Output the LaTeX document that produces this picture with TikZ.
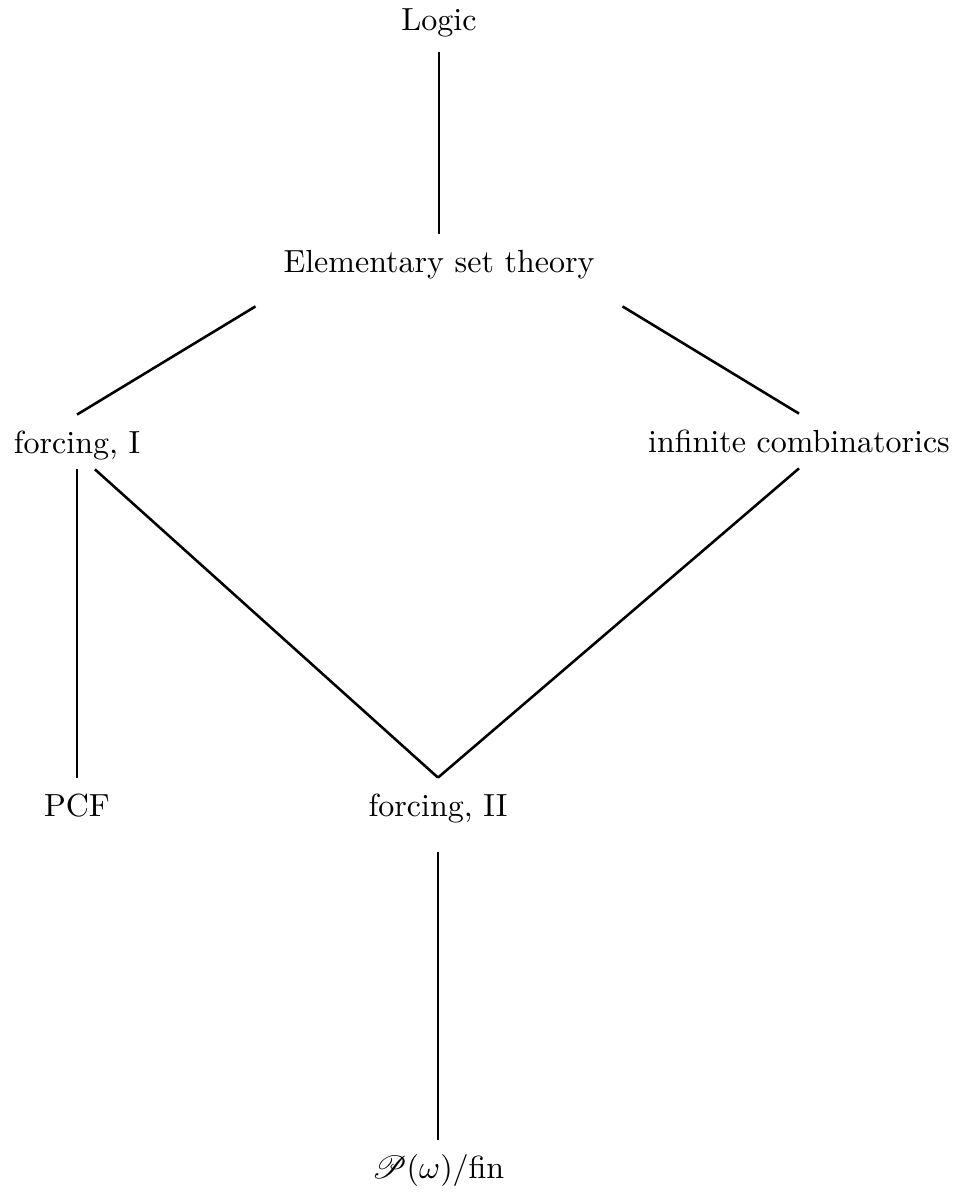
\documentclass[tikz,border=0pt]{standalone}
\usepackage{amsmath,mathrsfs}
\usepackage{tikz}

\begin{document}
\begin{tikzpicture}[x=0.3125pt,y=-0.3125pt,
    topic/.style={inner sep=0pt,outer sep=0pt,text height=7pt,text depth=2pt,anchor=base},
    link/.style={line width=0.8pt}]
    \useasboundingbox (0,0) rectangle (959,1193);

    % Topics
    \node[topic] (logic) at (439,30) {Logic};
    \node[topic] (est) at (439,272) {Elementary set theory};
    \node[topic] (forI) at (77,453) {forcing, I};
    \node[topic] (infcomb) at (799,452) {infinite combinatorics};
    \node[topic] (pcf) at (77,816) {PCF};
    \node[topic] (forII) at (438,816) {forcing, II};
    \node[topic] (pfin) at (438,1178) {$\mathscr{P}(\omega)/\mathrm{fin}$};

    % Links (ends kept clear of the text)
    \draw[link] ([shift={(0,16)}]logic.south) -- ([shift={(0,-16)}]est.north);
    \draw[link] ([shift={(-28,28)}]est.south west) -- ([shift={(0,-16)}]forI.north);
    \draw[link] ([shift={(28,28)}]est.south east) -- ([shift={(0,-16)}]infcomb.north);
    \draw[link] ([shift={(0,10)}]forI.south) -- ([shift={(0,-16)}]pcf.north);
    \draw[link] ([shift={(18,10)}]forI.south) -- ([shift={(0,-16)}]forII.north);
    \draw[link] ([shift={(0,10)}]infcomb.south) -- ([shift={(0,-16)}]forII.north);
    \draw[link] ([shift={(0,30)}]forII.south) -- ([shift={(0,-16)}]pfin.north);
\end{tikzpicture}
\end{document}
